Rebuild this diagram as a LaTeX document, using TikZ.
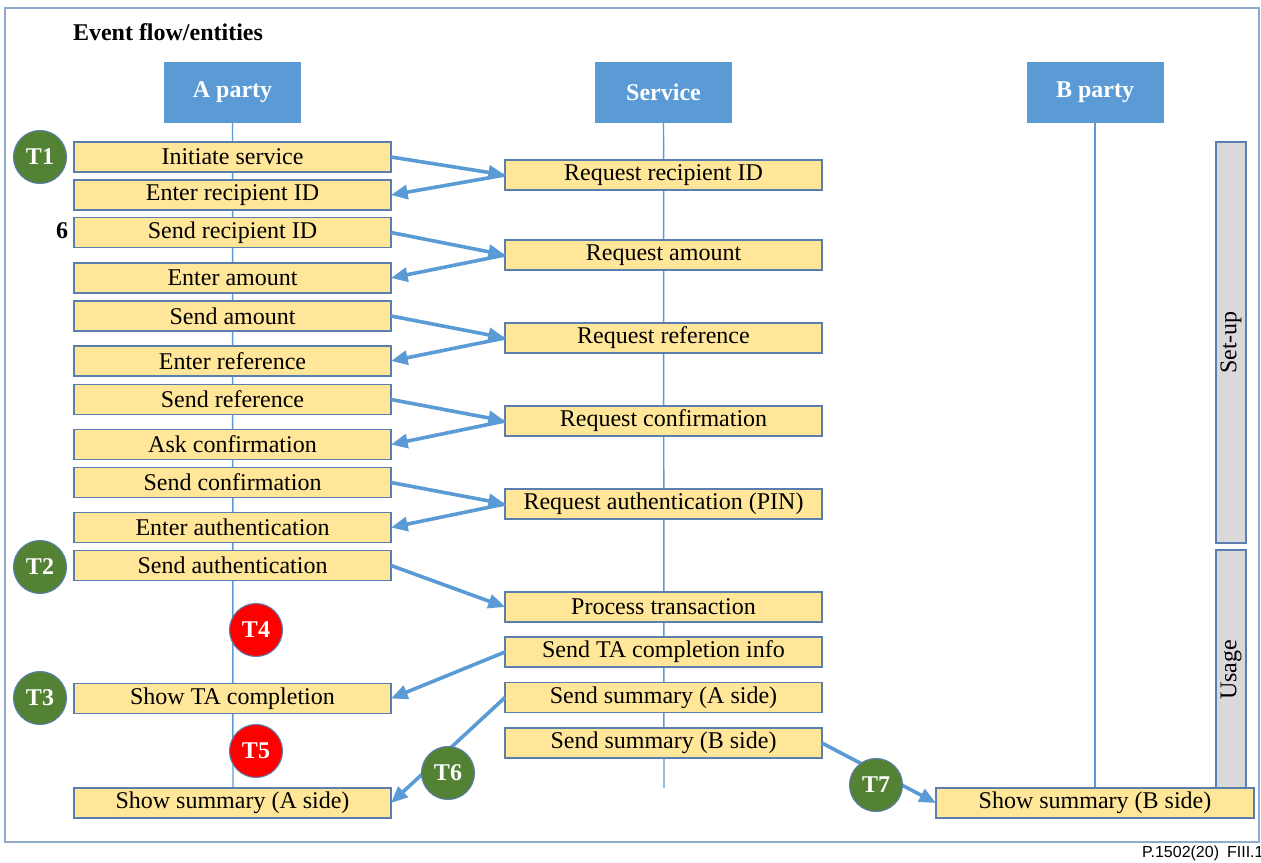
\documentclass[tikz,border=0pt]{standalone}
\usepackage{fontspec}
\setmainfont{Liberation Serif}
\newfontfamily\figlabelfont{Liberation Sans}
\usetikzlibrary{arrows.meta}
\definecolor{hdrblue}{HTML}{5B9BD5}
\definecolor{edgeblue}{HTML}{5A7FAE}
\definecolor{boxfill}{HTML}{FFE699}
\definecolor{barfill}{HTML}{D9D9D9}
\definecolor{tgreen}{HTML}{548235}
\definecolor{tred}{HTML}{FF0000}
\definecolor{framecol}{HTML}{8FAACC}
\begin{document}
\begin{tikzpicture}[x=0.75pt,y=-0.75pt,
  every node/.style={inner sep=0pt, outer sep=0pt},
  bigtext/.style={font=\fontsize{18}{20}\selectfont},
  party/.style={fill=hdrblue, minimum width=102.75pt, minimum height=45.75pt,
    text=white, font=\fontsize{18}{20}\selectfont\bfseries},
  evbox/.style={draw=edgeblue, line width=1pt, fill=boxfill,
    minimum width=237.75pt, minimum height=22.5pt, bigtext},
  tmark/.style={circle, draw=edgeblue, line width=0.8pt, minimum size=39.75pt,
    text=white, font=\fontsize{18}{20}\selectfont\bfseries},
  good/.style={tmark, fill=tgreen},
  bad/.style={tmark, fill=tred},
  life/.style={draw=hdrblue, line width=1.1pt},
  msg/.style={draw=hdrblue, line width=2.7pt, -{Triangle[length=12.5pt,width=10.5pt]}},
  phase/.style={draw=edgeblue, line width=1.4pt, fill=barfill}
]
\useasboundingbox (0,0) rectangle (1261,863);

% outer frame and caption
\draw[framecol, line width=1.2pt] (5,8) rectangle (1259,842);
\node[anchor=west, font=\fontsize{18}{20}\selectfont\bfseries] (title) at (73,32) {Event flow/entities};
\node[anchor=west, font=\figlabelfont\fontsize{12}{14}\selectfont] (figref) at (1142,853) {P.1502(20)\hspace{0.5em}FIII.1};

% entity headers
\node[party] (ap) at (232.5,92.5) {A party};
\node[party] (sv) at (663.5,92.5) {Service};
\node[party] (bp) at (1095,92.5) {B party};

% lifelines
\coordinate (aend) at (233,788);
\coordinate (send) at (664,788);
\coordinate (bend) at (1095,788);
\draw[life] (ap.south) -- (aend);
\draw[life] (sv.south) -- (send);
\draw[life] (bp.south) -- (bend);

% phase bars
\node[phase, minimum width=22.5pt, minimum height=300.75pt] (setup) at (1231,342.5) {};
\node[bigtext, rotate=90] (setuptxt) at (setup.center) {Set-up};
\node[phase, minimum width=22.5pt, minimum height=180pt] (usage) at (1231,670) {};
\node[bigtext, rotate=90] (usagetxt) at (usage.center) {Usage};

% A party events
\node[evbox] (a1) at (232.5,157) {Initiate service};
\node[evbox] (a2) at (232.5,195) {Enter recipient ID};
\node[evbox] (a3) at (232.5,232.5) {Send recipient ID};
\node[evbox] (a4) at (232.5,278) {Enter amount};
\node[evbox] (a5) at (232.5,316) {Send amount};
\node[evbox] (a6) at (232.5,361) {Enter reference};
\node[evbox] (a7) at (232.5,399.5) {Send reference};
\node[evbox] (a8) at (232.5,444.5) {Ask confirmation};
\node[evbox] (a9) at (232.5,482.5) {Send confirmation};
\node[evbox] (a10) at (232.5,527.5) {Enter authentication};
\node[evbox] (a11) at (232.5,565.5) {Send authentication};
\node[evbox] (a12) at (232.5,698.5) {Show TA completion};
\node[evbox] (a13) at (232.5,803) {Show summary (A side)};

% service events
\node[evbox] (s1) at (663.5,175) {Request recipient ID};
\node[evbox] (s2) at (663.5,255) {Request amount};
\node[evbox] (s3) at (663.5,338) {Request reference};
\node[evbox] (s4) at (663.5,421) {Request confirmation};
\node[evbox] (s5) at (663.5,504) {Request authentication (PIN)};
\node[evbox] (s6) at (663.5,607) {Process transaction};
\node[evbox] (s7) at (663.5,652) {Send TA completion info};
\node[evbox] (s8) at (663.5,697.5) {Send summary (A side)};
\node[evbox] (s9) at (663.5,743) {Send summary (B side)};

% B party event
\node[evbox, minimum width=238.5pt] (b1) at (1095,803) {Show summary (B side)};

% messages
\draw[msg] (a1.east) -- (s1.west);
\draw[msg] (s1.west) -- (a2.east);
\draw[msg] (a3.east) -- (s2.west);
\draw[msg] (s2.west) -- (a4.east);
\draw[msg] (a5.east) -- (s3.west);
\draw[msg] (s3.west) -- (a6.east);
\draw[msg] (a7.east) -- (s4.west);
\draw[msg] (s4.west) -- (a8.east);
\draw[msg] (a9.east) -- (s5.west);
\draw[msg] (s5.west) -- (a10.east);
\draw[msg] (a11.east) -- (s6.west);
\draw[msg] (s7.west) -- (a12.east);
\draw[msg] (s8.west) -- (a13.east);
\draw[msg] (s9.east) -- (b1.west);

% step label
\node[font=\fontsize{18}{20}\selectfont\bfseries] (six) at (62,231) {6};

% timing markers
\node[good] (t1) at (40,157) {T1};
\node[good] (t2) at (40,567) {T2};
\node[good] (t3) at (40,698) {T3};
\node[bad] (t4) at (256,630) {T4};
\node[bad] (t5) at (256,751) {T5};
\node[good] (t6) at (448,773) {T6};
\node[good] (t7) at (876,785) {T7};
\end{tikzpicture}
\end{document}
